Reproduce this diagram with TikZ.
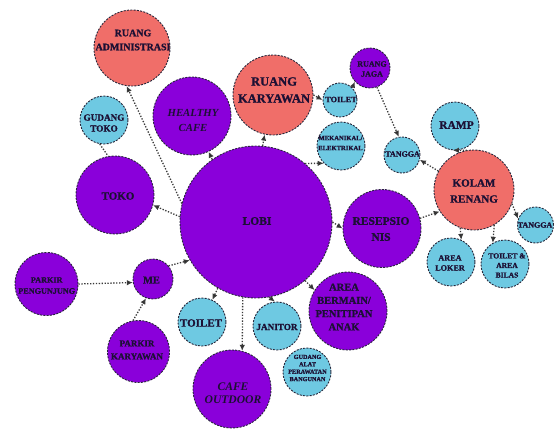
\documentclass[tikz,border=0pt]{standalone}
\usepackage{fontspec}
\setmainfont{Liberation Serif}[BoldFeatures={FakeBold=1.2}]
\usetikzlibrary{arrows.meta}
\definecolor{purp}{HTML}{8A00DA}
\definecolor{salm}{HTML}{F06E69}
\definecolor{lblue}{HTML}{6EC9E2}
\definecolor{bordc}{HTML}{26263A}
\definecolor{txtc}{HTML}{1C1034}
\definecolor{conc}{HTML}{3A3A3A}
\tikzset{
  room/.style={circle, draw=bordc, line width=0.9pt, dash pattern=on 2pt off 1.3pt, inner sep=0pt},
  pur/.style={room, fill=purp},
  sal/.style={room, fill=salm},
  blu/.style={room, fill=lblue},
  lab/.style={inner sep=0pt, align=center, text=txtc},
  conn/.style={draw=conc, line width=1.3pt, dash pattern=on 1.3pt off 1.6pt, -{Latex[length=6pt,width=5.5pt,fill=black]}},
  plain/.style={draw=conc, line width=1.3pt, dash pattern=on 1.3pt off 1.6pt}
}
\newcommand{\fsz}[2]{\bfseries\fontsize{#1}{#2}\selectfont}
\begin{document}
\begin{tikzpicture}[x=1pt,y=-1pt]
\useasboundingbox[fill=white] (0,0) rectangle (558,429);
% rooms
\node[pur, minimum size=152pt] (lobi) at (256,222) {};
\node[sal, minimum size=76pt] (admin) at (132,48) {};
\node[blu, minimum size=48pt] (gtoko) at (104,120) {};
\node[pur, minimum size=78pt] (hcafe) at (192,116) {};
\node[sal, minimum size=80pt] (kary) at (273,95) {};
\node[pur, minimum size=78pt] (toko) at (115,195) {};
\node[pur, minimum size=40pt] (jaga) at (370,68) {};
\node[blu, minimum size=34pt] (toilA) at (340,100) {};
\node[blu, minimum size=48pt] (mek) at (341,146) {};
\node[blu, minimum size=36pt] (tangA) at (402,155) {};
\node[blu, minimum size=48pt] (ramp) at (455,126) {};
\node[sal, minimum size=80pt] (kolam) at (474,190) {};
\node[blu, minimum size=36pt] (tangB) at (535.5,225) {};
\node[pur, minimum size=78pt] (resep) at (382,228.5) {};
\node[blu, minimum size=48pt] (loker) at (451,262) {};
\node[blu, minimum size=48pt] (bilas) at (505,264) {};
\node[pur, minimum size=78pt] (main) at (348,311) {};
\node[blu, minimum size=48pt] (galat) at (307,372) {};
\node[blu, minimum size=48pt] (jan) at (277,326) {};
\node[blu, minimum size=48pt] (toilB) at (202,322) {};
\node[pur, minimum size=78pt] (cafeo) at (232,389) {};
\node[pur, minimum size=40pt] (me) at (153,279) {};
\node[pur, minimum size=63pt] (ppeng) at (46.5,284) {};
\node[pur, minimum size=62pt] (pkary) at (138.5,351.5) {};
% labels
\node[lab, font=\fsz{11.5}{14}] (lobiT) at (257,221) {LOBI};
\node[lab, font=\fsz{10}{14}] (adminT) at (133,40) {RUANG\\ADMINISTRASI};
\node[lab, font=\fsz{9.2}{11}] (gtokoT) at (104,123) {GUDANG\\TOKO};
\node[lab, font=\fsz{10.8}{15}\itshape] (hcafeT) at (193,120) {HEALTHY\\CAFE};
\node[lab, font=\fsz{12.5}{17}] (karyT) at (274,90) {RUANG\\KARYAWAN};
\node[lab, font=\fsz{11}{14}] (tokoT) at (118,196) {TOKO};
\node[lab, font=\fsz{8}{10}] (jagaT) at (372,69) {RUANG\\JAGA};
\node[lab, font=\fsz{8.2}{10}] (toilAT) at (341,99.5) {TOILET};
\node[lab, font=\fsz{6.6}{10}] (mekT) at (340.5,143) {MEKANIKAL/\\ELEKTRIKAL};
\node[lab, font=\fsz{8}{10}] (tangAT) at (402.5,154) {TANGGA};
\node[lab, font=\fsz{11.5}{14}] (rampT) at (456.5,125) {RAMP};
\node[lab, font=\fsz{11}{16}] (kolamT) at (474,191) {KOLAM\\RENANG};
\node[lab, font=\fsz{8}{10}] (tangBT) at (535,225) {TANGGA};
\node[lab, font=\fsz{11.5}{16}] (resepT) at (381,229) {RESEPSIO\\NIS};
\node[lab, font=\fsz{8.2}{10}] (lokerT) at (450,263) {AREA\\LOKER};
\node[lab, font=\fsz{7.6}{9.6}] (bilasT) at (507,265.5) {TOILET \&\\AREA\\BILAS};
\node[lab, font=\fsz{10.5}{13.3}] (mainT) at (344,307) {AREA\\BERMAIN/\\PENITIPAN\\ANAK};
\node[lab, font=\fsz{6.2}{7.4}] (galatT) at (307.5,368) {GUDANG\\ALAT\\PERAWATAN\\BANGUNAN};
\node[lab, font=\fsz{9.2}{12}] (janT) at (277,327) {JANITOR};
\node[lab, font=\fsz{11}{14}] (toilBT) at (201,323) {TOILET};
\node[lab, font=\fsz{11.6}{13.5}\itshape] (cafeoT) at (233,393) {CAFE\\OUTDOOR};
\node[lab, font=\fsz{10.5}{13}] (meT) at (151.5,280) {ME};
\node[lab, font=\fsz{8.2}{11}] (ppengT) at (46.7,285.5) {PARKIR\\PENGUNJUNG};
\node[lab, font=\fsz{9}{13}] (pkaryT) at (137,350) {PARKIR\\KARYAWAN};
% connectors
\draw[conn] (lobi.166) -- (admin.262);
\draw[conn] (lobi.176) -- (toko.345);
\draw[conn] (lobi.125) -- (hcafe.295);
\draw[conn] (lobi.85) -- (kary.258);
\draw[conn] (lobi.50) -- (mek.225);
\draw[conn] (kary.0) -- (toilA.180);
\draw[conn] (toilA.45) -- (jaga.222);
\draw[conn] (jaga.290) -- (tangA.100);
\draw[conn] (kolam.152) -- (tangA.345);
\draw[conn] (kolam.100) -- (ramp.265);
\draw[conn] (kolam.340) -- (tangB.160);
\draw[conn] (kolam.250) -- (loker.65);
\draw[conn] (kolam.300) -- (bilas.120);
\draw[conn] (resep.15) -- (kolam.212);
\draw[conn] (lobi.0) -- (resep.180);
\draw[conn] (lobi.310) -- (main.148);
\draw[conn] (lobi.280) -- (jan.95);
\draw[conn] (lobi.240) -- (toilB.65);
\draw[conn] (lobi.260) -- (cafeo.75);
\draw[conn] (me.40) -- (lobi.210);
\draw[conn] (ppeng.0) -- (me.190);
\draw[conn] (pkary.100) -- (me.250);
\draw[plain] (gtoko.260) -- (toko.100);
\end{tikzpicture}
\end{document}
